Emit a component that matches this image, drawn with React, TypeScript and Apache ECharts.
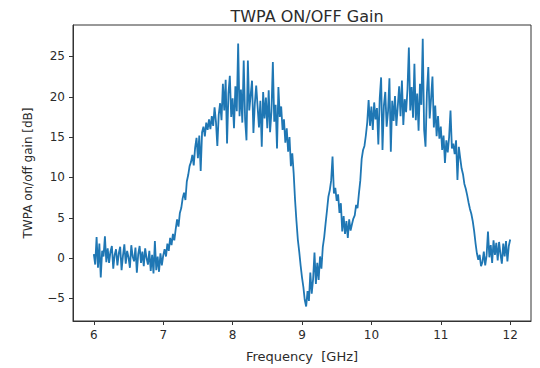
import React, { useEffect, useRef } from "react";
import * as echarts from "echarts";

// Frequency grid: 6.00 GHz to 12.00 GHz, 0.02 GHz step
const freqStart = 6.0;
const freqStep = 0.02;

// Gain values [dB], one array per GHz band
const gain6to7 = [
  0.5, -0.8, 2.6, -1.2, 1.8, -2.4, 0.9, 0.2, 2.7, -0.5,
  1.2, -0.6, 0.8, 1.5, -1.3, 0.4, 1.1, -0.9, 0.6, 1.4,
  -1.5, 0.3, 1.7, -0.7, 0.9, 0.1, -1.2, 1.6, 0.2, -0.4,
  1.3, -1.8, 0.5, 1.5, -0.6, 0.8, -1.0, 1.2, 0.0, -0.8,
  0.9, -1.6, 0.4, -1.9, 2.1, -1.5, 0.2, -1.7, 0.6, -0.9,
];
const gain7to8 = [
  0.3, 1.1, 0.2, 1.8, 0.9, 2.5, 1.6, 3.0, 2.2, 3.6,
  4.8, 3.9, 5.6, 6.2, 7.4, 8.1, 7.2, 9.5, 10.3, 11.4,
  11.9, 12.8, 11.5, 13.7, 14.9, 12.4, 15.2, 10.8, 15.6, 16.3,
  15.1, 16.8, 15.9, 17.2, 16.0, 17.6, 16.4, 18.7, 16.9, 13.9,
  17.8, 19.2, 17.1, 21.6, 18.3, 22.1, 14.2, 20.4, 22.6, 17.5,
];
const gain8to9 = [
  19.8, 16.1, 21.3, 18.2, 26.6, 17.6, 20.9, 16.8, 24.5, 17.2,
  14.6, 24.5, 18.3, 20.2, 22.0, 15.5, 19.1, 21.4, 18.8, 16.2,
  19.5, 13.8, 20.6, 17.3, 19.9, 16.1, 20.8, 15.6, 18.2, 24.3,
  16.9, 19.0, 13.6, 21.2, 17.5, 18.8, 15.9, 17.2, 14.3, 16.1,
  13.2, 15.0, 11.4, 13.0, 10.5, 7.2, 4.6, 2.3, 0.8, -0.9,
];
const gain9to10 = [
  -2.4, -3.6, -5.2, -6.0, -4.1, -5.3, -1.8, -4.4, -2.6, 0.7,
  -3.2, -0.6, -2.7, 0.2, -1.3, 1.4, 2.6, 4.3, 5.9, 7.6,
  8.4, 9.6, 12.6, 8.0, 8.7, 7.1, 7.9, 5.6, 6.8, 3.3,
  5.2, 3.0, 4.6, 2.5, 4.8, 3.4, 4.2, 4.9, 5.3, 6.6,
  6.2, 8.0, 9.6, 12.3, 13.4, 13.9, 15.2, 16.8, 19.6, 16.4,
];
const gain10to11 = [
  18.8, 15.9, 19.3, 17.2, 18.6, 14.1, 19.8, 22.4, 13.4, 18.9,
  20.6, 16.3, 18.2, 22.3, 13.2, 19.5, 17.0, 20.1, 16.4, 18.8,
  21.3, 17.6, 22.0, 16.5, 19.7, 18.1, 20.9, 26.1, 18.3, 21.2,
  17.4, 24.1, 17.1, 20.4, 15.8, 21.6, 19.0, 27.2, 15.9, 13.8,
  20.5, 23.7, 17.3, 19.8, 22.5, 16.2, 18.9, 15.1, 17.6, 14.8,
];
const gain11to12 = [
  16.3, 13.4, 15.2, 11.8, 14.6, 13.1, 15.0, 18.3, 13.6, 14.2,
  12.9, 14.6, 9.7, 13.8, 12.4, 11.1, 10.4, 9.2, 8.6, 7.8,
  6.9, 6.1, 5.5, 4.6, 3.4, 1.9, 0.6, -0.2, 0.4, -1.0,
  -0.5, 0.8, -0.9, 0.3, 3.3, 0.1, 1.6, -0.6, 2.2, 0.4,
  1.9, -0.3, 2.0, 0.5, -0.7, 1.8, 0.2, 2.1, -0.4, 1.5,
  2.3,
];

const xTicks = [6, 7, 8, 9, 10, 11, 12];
const yTicks = [-5, 0, 5, 10, 15, 20, 25];

const gainDb = [
  ...gain6to7,
  ...gain7to8,
  ...gain8to9,
  ...gain9to10,
  ...gain10to11,
  ...gain11to12,
];

const FONT = "DejaVu Sans";
const TEXT = "#2b2b2b";

export default function App() {
  const ref = useRef<HTMLDivElement>(null);

  useEffect(() => {
    if (!ref.current) return;
    const chart = echarts.init(ref.current, undefined, { renderer: "svg" });
    const data = gainDb.map((v, i) => [
      +(freqStart + i * freqStep).toFixed(2),
      v,
    ]);
    chart.setOption({
      animation: false,
      backgroundColor: "#ffffff",
      title: {
        text: "TWPA ON/OFF Gain",
        left: 302,
        top: 3,
        textAlign: "center",
        textStyle: {
          fontFamily: FONT,
          fontSize: 16,
          fontWeight: "normal",
          color: TEXT,
        },
      },
      grid: {
        left: 73,
        right: 9,
        top: 25,
        bottom: 45,
        show: true,
        borderColor: "#333",
        borderWidth: 1,
        backgroundColor: "transparent",
      },
      xAxis: {
        type: "value",
        min: 5.7,
        max: 12.3,
        name: "Frequency  [GHz]",
        nameLocation: "middle",
        nameGap: 29,
        nameTextStyle: { fontFamily: FONT, fontSize: 13, color: TEXT },
        axisLine: { show: true, onZero: false, lineStyle: { color: "#333", width: 1 } },
        axisTick: {
          show: true,
          inside: false,
          length: 4,
          customValues: xTicks,
          lineStyle: { color: "#333" },
        },
        axisLabel: {
          customValues: xTicks,
          fontFamily: FONT,
          fontSize: 12,
          color: TEXT,
          margin: 8,
        },
        splitLine: { show: false },
      },
      yAxis: {
        type: "value",
        min: -7.8,
        max: 28.9,
        name: "TWPA on/off gain [dB]",
        nameLocation: "middle",
        nameGap: 39,
        nameRotate: 90,
        nameTextStyle: { fontFamily: FONT, fontSize: 12, color: TEXT },
        axisLine: { show: true, onZero: false, lineStyle: { color: "#333", width: 1 } },
        axisTick: {
          show: true,
          inside: false,
          length: 4,
          customValues: yTicks,
          lineStyle: { color: "#333" },
        },
        axisLabel: {
          customValues: yTicks,
          fontFamily: FONT,
          fontSize: 12,
          color: TEXT,
          margin: 8,
          formatter: (v: number) => (v < 0 ? "\u2212" + Math.abs(v) : String(v)),
        },
        splitLine: { show: false },
      },
      series: [
        {
          type: "line",
          data,
          showSymbol: false,
          symbol: "none",
          lineStyle: { color: "#1f77b4", width: 1.8 },
          itemStyle: { color: "#1f77b4" },
        },
      ],
    });
    return () => chart.dispose();
  }, []);

  return (
    <div
      ref={ref}
      style={{ position: "fixed", left: 0, top: 0, width: 540, height: 368 }}
    />
  );
}
